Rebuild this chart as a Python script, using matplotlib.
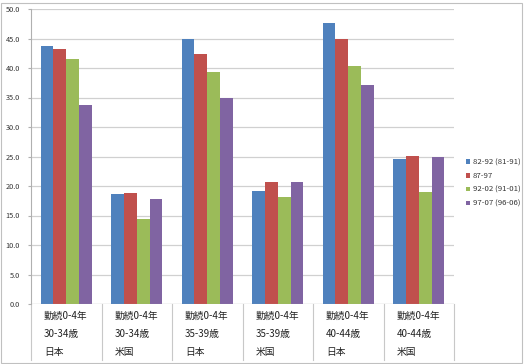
import matplotlib
matplotlib.use("Agg")
import matplotlib.pyplot as plt
from matplotlib.patches import Rectangle
from matplotlib.lines import Line2D
import numpy as np

plt.rcParams['font.family'] = ['Noto Sans CJK JP', 'DejaVu Sans']

line1 = ["勤続0-4年"] * 6
line2 = ["30-34歳", "30-34歳", "35-39歳", "35-39歳", "40-44歳", "40-44歳"]
line3 = ["日本", "米国", "日本", "米国", "日本", "米国"]

series_names = ["82-92 (81-91)", "87-97", "92-02 (91-01)", "97-07 (96-06)"]
s1 = [43.8, 18.6, 45.0, 19.2, 47.6, 24.5]
s2 = [43.2, 18.8, 42.3, 20.6, 45.0, 25.1]
s3 = [41.6, 14.4, 39.3, 18.1, 40.4, 18.9]
s4 = [33.8, 17.8, 35.0, 20.6, 37.1, 25.0]
yticks = [0, 5, 10, 15, 20, 25, 30, 35, 40, 45, 50]

colors = ["#4F81BD", "#C0504D", "#9BBB59", "#8064A2"]

W, H = 526, 364
fig = plt.figure(figsize=(W / 100, H / 100), dpi=100)
ax = fig.add_axes([31 / W, 1 - 304 / H, (454 - 31) / W, (304 - 9) / H])

n = len(line1)
x = np.arange(n)
bw = 0.182
for i, (vals, c, name) in enumerate(zip([s1, s2, s3, s4], colors, series_names)):
    ax.bar(x + (i - 1.5) * bw, vals, width=bw, color=c, label=name, zorder=3)

ax.set_xlim(-0.5, n - 0.5)
ax.set_ylim(0, 50)
ax.set_yticks(yticks)
ax.set_yticklabels([f"{v:.1f}" for v in yticks], fontsize=5.3, color="#333333")
ax.yaxis.grid(True, color="#d0d0d0", linewidth=0.9, zorder=0)
ax.set_xticks([])
for s in ["top", "right", "bottom"]:
    ax.spines[s].set_visible(False)
ax.spines["left"].set_color("#b0b0b0")
ax.spines["left"].set_linewidth(0.8)
ax.tick_params(axis="y", length=2, color="#b0b0b0", pad=6, width=0.8)
ax.axhline(0, color="#b0b0b0", linewidth=0.8, zorder=4)

# category separators and multi-level labels
trans = ax.get_xaxis_transform()
bottom_px = 360
ybot = -(bottom_px - 304) / (304 - 9)
for b in np.arange(-0.5, n, 1.0):
    ax.add_line(Line2D([b, b], [0, ybot], transform=trans, color="#c8c8c8",
                       linewidth=0.8, clip_on=False))
ys = [-(316 - 304) / 295, -(334 - 304) / 295, -(352 - 304) / 295]
for i in range(n):
    for yy, txt in zip(ys, [line1[i], line2[i], line3[i]]):
        ax.text(i - 0.5 + 13 / 70.5, yy, txt, transform=trans, fontsize=7,
                ha="left", va="center", color="#222222")

# legend
handles, labels = ax.get_legend_handles_labels()
leg = fig.legend(handles, labels, loc="upper left",
                 bbox_to_anchor=(463 / W, 1 - 155 / H), frameon=False,
                 fontsize=5.6, handlelength=0.55, handleheight=0.55,
                 handletextpad=0.3, labelspacing=0.75, borderaxespad=0)
for t in leg.get_texts():
    t.set_color("#333333")

# chart area border
fig.patches.append(Rectangle((1 / W, 1 / H), (522 - 1) / W, (362 - 2) / H,
                             transform=fig.transFigure, fill=False,
                             edgecolor="#c0c0c0", linewidth=0.8))

fig.savefig("out.png", dpi=100)
